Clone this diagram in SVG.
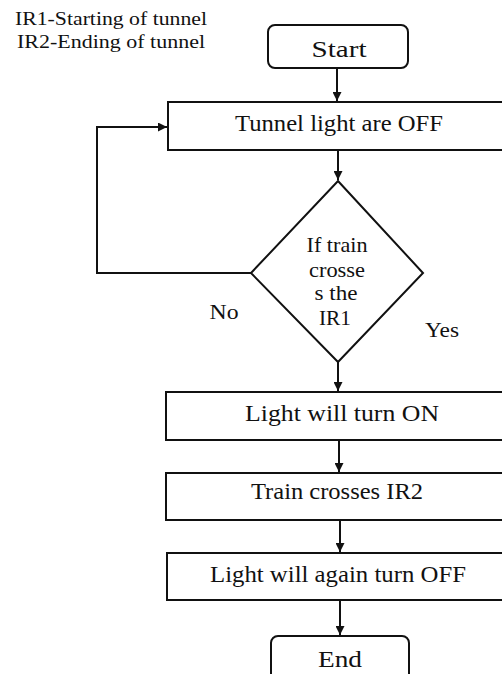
<svg xmlns="http://www.w3.org/2000/svg" width="502" height="674" viewBox="0 0 502 674">
<style>
.b{fill:#fff;stroke:#111;stroke-width:2}
.c{fill:none;stroke:#111;stroke-width:2}
text{font-family:'Liberation Serif',Tinos,'Times New Roman',Times,'Nimbus Roman','Noto Serif',serif;fill:#111;text-anchor:middle}
.t{font-size:23px}
.d{font-size:21px}
.l{font-size:19px;text-anchor:start}
</style>
<defs>
<marker id="ah" viewBox="0 0 10 10" refX="10" refY="5" markerWidth="9" markerHeight="9" markerUnits="userSpaceOnUse" orient="auto">
<path d="M0,0 L10,5 L0,10 z" fill="#111"/>
</marker>
</defs>
<rect width="502" height="674" fill="#fff"/>
<g id="legend">
<text class="l" x="15" y="25" textLength="192" lengthAdjust="spacingAndGlyphs">IR1-Starting of tunnel</text>
<text class="l" x="17" y="48" textLength="188" lengthAdjust="spacingAndGlyphs">IR2-Ending of tunnel</text>
</g>
<g id="connectors">
<path class="c" d="M337,68 V101" marker-end="url(#ah)"/>
<path class="c" d="M338,150 V180" marker-end="url(#ah)"/>
<path class="c" d="M251,273 H97 V127 H167" marker-end="url(#ah)"/>
<path class="c" d="M338,362 V391" marker-end="url(#ah)"/>
<path class="c" d="M339,440 V472" marker-end="url(#ah)"/>
<path class="c" d="M340,520 V552" marker-end="url(#ah)"/>
<path class="c" d="M340,600 V635" marker-end="url(#ah)"/>
<text class="d" x="224" y="319" textLength="29" lengthAdjust="spacingAndGlyphs">No</text>
<text class="d" x="442" y="337" textLength="34" lengthAdjust="spacingAndGlyphs">Yes</text>
</g>
<g id="start">
<rect class="b" x="268" y="25" width="140" height="43" rx="7"/>
<text class="t" x="339" y="57" textLength="55" lengthAdjust="spacingAndGlyphs">Start</text>
</g>
<g id="lightsOff">
<rect class="b" x="168" y="102" width="340" height="48"/>
<text class="t" x="339" y="131" textLength="208" lengthAdjust="spacingAndGlyphs">Tunnel light are OFF</text>
</g>
<g id="decision">
<path class="b" d="M338,181 L423,273 L338,362 L251,273 Z"/>
<text class="d" x="337" y="252" textLength="61" lengthAdjust="spacingAndGlyphs">If train</text>
<text class="d" x="337" y="277" textLength="56" lengthAdjust="spacingAndGlyphs">crosse</text>
<text class="d" x="336" y="300" textLength="43" lengthAdjust="spacingAndGlyphs">s the</text>
<text class="d" x="335" y="325" textLength="32" lengthAdjust="spacingAndGlyphs">IR1</text>
</g>
<g id="lightOn">
<rect class="b" x="166" y="392" width="342" height="48"/>
<text class="t" x="342" y="421" textLength="194" lengthAdjust="spacingAndGlyphs">Light will turn ON</text>
</g>
<g id="crossIR2">
<rect class="b" x="166" y="473" width="342" height="47"/>
<text class="t" x="337" y="499" textLength="172" lengthAdjust="spacingAndGlyphs">Train crosses IR2</text>
</g>
<g id="lightOffAgain">
<rect class="b" x="167" y="553" width="341" height="47"/>
<text class="t" x="338" y="582" textLength="256" lengthAdjust="spacingAndGlyphs">Light will again turn OFF</text>
</g>
<g id="end">
<rect class="b" x="271" y="636" width="138" height="50" rx="7"/>
<text class="t" x="340" y="667" textLength="44" lengthAdjust="spacingAndGlyphs">End</text>
</g>
</svg>
